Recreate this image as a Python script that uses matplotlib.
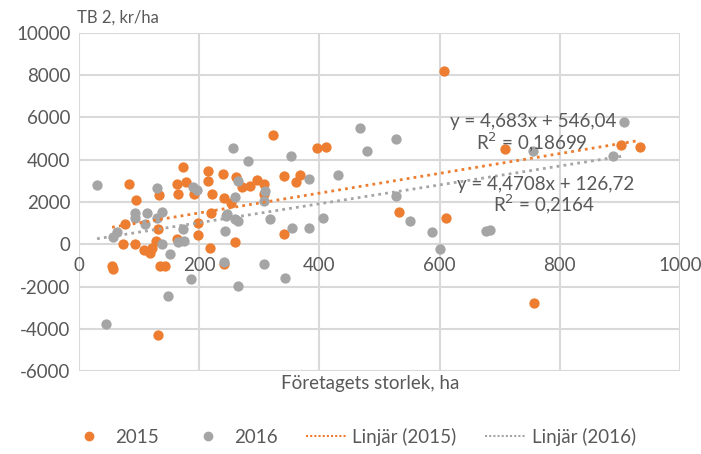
import matplotlib
matplotlib.use("Agg")
import matplotlib.pyplot as plt
from matplotlib.lines import Line2D
import numpy as np

# 2015 data (orange)
x15 = [607, 902, 933, 709, 532, 610, 757, 322, 396, 411, 173, 83, 95, 133, 163, 165,
       178, 192, 214, 214, 222, 239, 262, 242, 253, 271, 284, 296, 307, 307, 341, 361,
       368, 220, 198, 198, 77, 74, 93, 108, 118, 121, 128, 132, 163, 218, 259, 341,
       242, 55, 56, 135, 143, 132]
y15 = [8200, 4720, 4580, 4530, 1540, 1260, -2770, 5150, 4540, 4590, 3640, 2860, 2110, 2340, 2860, 2380,
       2930, 2380, 3450, 3010, 2380, 3330, 3170, 2170, 1970, 2730, 2780, 3050, 2860, 2380, 3210, 2930,
       3280, 1500, 1020, 450, 960, 20, 20, -260, -400, -160, 170, 730, 260, -170, 120, 490,
       -920, -1020, -1170, -1020, -1020, -4300]

# 2016 data (gray)
x16 = [30, 130, 256, 281, 353, 382, 431, 264, 189, 196, 260, 310, 307, 93, 93, 113,
       138, 130, 246, 260, 265, 317, 406, 467, 527, 480, 755, 907, 888, 528, 550, 587,
       600, 677, 684, 45, 57, 64, 138, 152, 173, 165, 175, 148, 187, 245, 243, 242,
       265, 308, 343, 355, 383, 110]
y16 = [2820, 2670, 4540, 3960, 4200, 3090, 3300, 3010, 2690, 2580, 2250, 2540, 2060, 1480, 1260, 1500,
       1540, 1260, 1420, 1190, 1110, 1190, 1260, 5480, 4960, 4400, 4400, 5810, 4180, 2300, 1080, 600,
       -220, 640, 690, -3770, 350, 600, 20, -450, 730, 120, 170, -2450, -1640, 1350, 640, -830,
       -1970, -930, -1590, 780, 780, 970]

# Trendline coefficients (from chart labels)
slope15, icpt15 = 4.683, 546.04
slope16, icpt16 = 4.4708, 126.72
eq15 = ["y = 4,683x + 546,04", "R$^2$ = 0,18699"]
eq16 = ["y = 4,4708x + 126,72", "R$^2$ = 0,2164"]

xticks = [0, 200, 400, 600, 800, 1000]
yticks = [-6000, -4000, -2000, 0, 2000, 4000, 6000, 8000, 10000]

orange = "#ED7D31"
gray = "#A5A5A5"
txt = "#595959"
grid = "#D9D9D9"

plt.rcParams['font.family'] = ['Lato', 'DejaVu Sans']

fig = plt.figure(figsize=(7.01, 4.54), dpi=100)
ax = fig.add_axes([79/701, 1-371/454, (680-79)/701, (371-33)/454])
ax.set_xlim(0, 1000)
ax.set_ylim(-6000, 10000)

for xv in xticks:
    ax.axvline(xv, color=grid, lw=1.5, zorder=0)
for yv in yticks:
    ax.axhline(yv, color=grid, lw=1.5, zorder=0)

for s in ax.spines.values():
    s.set_visible(False)

ax.set_xticks([])
ax.set_yticks(yticks)
ax.set_yticklabels([str(v) for v in yticks])
ax.tick_params(axis='y', length=0, pad=6, labelsize=13.5, labelcolor=txt)

# x tick labels under the zero line
for xv in xticks:
    ax.annotate(str(xv), (xv, 0), xytext=(0, -9), textcoords='offset points',
                ha='center', va='top', fontsize=13.5, color=txt)

ax.scatter(x15, y15, s=55, color=orange, zorder=3, linewidths=0)
ax.scatter(x16, y16, s=55, color=gray, zorder=4, linewidths=0)

xs15 = np.array([min(x15), max(x15)])
xs16 = np.array([min(x16), max(x16)])
ax.plot(xs15, slope15*xs15+icpt15, color=orange, lw=2, ls=(0, (1, 1.5)), zorder=5)
ax.plot(xs16, slope16*xs16+icpt16, color=gray, lw=2, ls=(0, (1, 1.5)), zorder=5)

ax.text(755, 5800, eq15[0], ha='center', va='center', fontsize=13.5, color=txt, zorder=6)
ax.text(753, 4830, eq15[1], ha='center', va='center', fontsize=13.5, color=txt, zorder=6)
ax.text(776, 2850, eq16[0], ha='center', va='center', fontsize=13.5, color=txt, zorder=6)
ax.text(774, 1880, eq16[1], ha='center', va='center', fontsize=13.5, color=txt, zorder=6)

fig.text(77/701, 1-18/454, "TB 2, kr/ha", ha='left', va='center', fontsize=12, color=txt)
fig.text(370/701, 1-383/454, "Företagets storlek, ha", ha='center', va='center', fontsize=13.5, color=txt)

handles = [
    Line2D([], [], ls='none', marker='o', ms=6, color=orange),
    Line2D([], [], ls='none', marker='o', ms=6, color=gray),
    Line2D([], [], color=orange, lw=1.5, ls=(0, (1, 1))),
    Line2D([], [], color=gray, lw=1.5, ls=(0, (1, 1))),
]
labels = ["2015", "2016", "Linjär (2015)", "Linjär (2016)"]
fig.legend(handles, labels, loc='center', bbox_to_anchor=(352/701, 1-437/454), ncol=4,
           frameon=False, fontsize=13.5, labelcolor=txt, handlelength=2.2,
           columnspacing=1.5, handletextpad=0.3)

fig.savefig("out.png", dpi=100)
